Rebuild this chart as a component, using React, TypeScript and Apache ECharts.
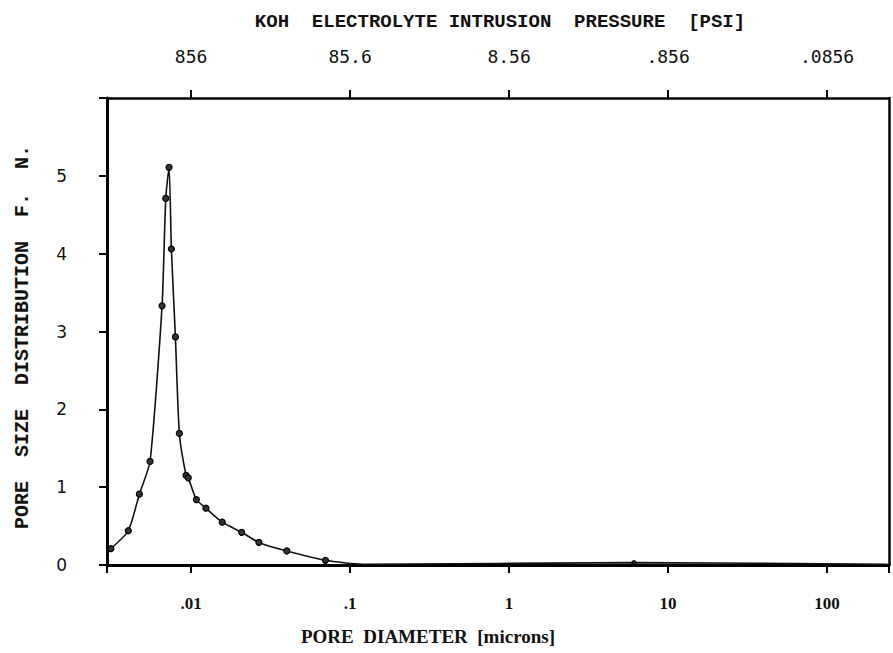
import React, { useEffect, useRef } from "react";
import * as echarts from "echarts";

// Pore diameter (microns) and pore size distribution F.N.
const diameters = [0.00313, 0.00403, 0.00473, 0.00552, 0.00657, 0.00693, 0.00727, 0.00752, 0.00797, 0.00844, 0.0093, 0.0096, 0.0108, 0.0124, 0.0157, 0.0208, 0.0267, 0.040, 0.070, 0.12, 6.1, 240];
const distribution = [0.21, 0.44, 0.91, 1.33, 3.33, 4.71, 5.11, 4.06, 2.93, 1.69, 1.15, 1.12, 0.84, 0.73, 0.55, 0.42, 0.29, 0.18, 0.06, 0.01, 0.03, 0.01];
const markerShown = [1, 1, 1, 1, 1, 1, 1, 1, 1, 1, 1, 1, 1, 1, 1, 1, 1, 1, 1, 0, 1, 0];

const diameterTicks = [0.01, 0.1, 1, 10, 100];
const diameterLabels = [".01", ".1", "1", "10", "100"];
const pressureLabels = ["856", "85.6", "8.56", ".856", ".0856"];
const yTicks = [0, 1, 2, 3, 4, 5];

const xMin = 0.00296;
const xMax = 245;

const topTitle = "KOH  ELECTROLYTE INTRUSION  PRESSURE  [PSI]";
const bottomTitle = "PORE  DIAMETER  [microns]";
const leftTitle = "PORE  SIZE  DISTRIBUTION  F.  N.";

function idxOf(v: number) {
  const e = Math.log10(v);
  const r = Math.round(e);
  if (Math.abs(e - r) > 1e-6) return -1;
  return r + 2;
}

export default function App() {
  const ref = useRef<HTMLDivElement>(null);
  useEffect(() => {
    if (!ref.current) return;
    const chart = echarts.init(ref.current, undefined, { renderer: "svg" });
    const data = diameters.map((d, i) => ({
      value: [d, distribution[i]],
      symbol: markerShown[i] ? "circle" : "none",
      symbolSize: i === 20 ? 4 : 6,
    }));
    const tickStyle = { color: "#000", width: 2 };
    chart.setOption({
      animation: false,
      backgroundColor: "#ffffff",
      grid: { left: 107, right: 4, top: 98, bottom: 88, containLabel: false },
      xAxis: [
        {
          type: "log",
          logBase: 10,
          position: "bottom",
          min: xMin,
          max: xMax,
          axisLine: { show: true, onZero: false, lineStyle: { color: "#000", width: 3 } },
          axisTick: { show: true, length: 8, lineStyle: tickStyle },
          minorTick: { show: false },
          splitLine: { show: false },
          axisLabel: {
            customValues: diameterTicks,
            margin: 30,
            color: "#111",
            fontFamily: "Liberation Serif",
            fontWeight: "bold",
            fontSize: 17,
            formatter: (v: number) => {
              const k = idxOf(v);
              return k >= 0 ? diameterLabels[k] : "";
            },
          },
        },
        {
          type: "log",
          logBase: 10,
          position: "top",
          min: xMin,
          max: xMax,
          axisLine: { show: true, onZero: false, lineStyle: { color: "#000", width: 2.5 } },
          axisTick: { show: true, length: 8, customValues: diameterTicks, lineStyle: tickStyle },
          minorTick: { show: false },
          splitLine: { show: false },
          axisLabel: {
            customValues: diameterTicks,
            margin: 33,
            color: "#111",
            fontFamily: "DejaVu Sans Mono",
            fontSize: 18,
            formatter: (v: number) => {
              const k = idxOf(v);
              return k >= 0 ? pressureLabels[k] : "";
            },
          },
        },
      ],
      yAxis: [
        {
          type: "value",
          position: "left",
          min: 0,
          max: 6,
          interval: 1,
          axisLine: { show: true, onZero: false, lineStyle: { color: "#000", width: 3 } },
          axisTick: { show: true, length: 8, lineStyle: tickStyle },
          splitLine: { show: false },
          axisLabel: {
            customValues: yTicks,
            margin: 40,
            color: "#111",
            fontFamily: "DejaVu Sans",
            fontSize: 17,
          },
        },
        {
          type: "value",
          position: "right",
          min: 0,
          max: 6,
          interval: 1,
          axisLine: { show: true, onZero: false, lineStyle: { color: "#000", width: 2.5 } },
          axisTick: { show: false },
          axisLabel: { show: false },
          splitLine: { show: false },
        },
      ],
      graphic: [
        {
          type: "text",
          x: 500,
          y: 22,
          style: {
            text: topTitle,
            font: "bold 19px 'Liberation Mono'",
            fill: "#111",
            align: "center",
            verticalAlign: "middle",
            textAlign: "center",
            textVerticalAlign: "middle",
          },
        },
        {
          type: "text",
          x: 428,
          y: 636,
          style: {
            text: bottomTitle,
            font: "bold 19px 'Liberation Serif'",
            fill: "#111",
            align: "center",
            verticalAlign: "middle",
            textAlign: "center",
            textVerticalAlign: "middle",
          },
        },
        {
          type: "text",
          x: 22,
          y: 337,
          rotation: Math.PI / 2,
          style: {
            text: leftTitle,
            font: "bold 20px 'Liberation Mono'",
            fill: "#111",
            align: "center",
            verticalAlign: "middle",
            textAlign: "center",
            textVerticalAlign: "middle",
          },
        },
      ],
      series: [
        {
          type: "line",
          xAxisIndex: 0,
          yAxisIndex: 0,
          data,
          smooth: 0.2,
          lineStyle: { color: "#111", width: 1.6 },
          itemStyle: { color: "#333", borderColor: "#000", borderWidth: 1.2 },
        },
      ],
    });
    return () => chart.dispose();
  }, []);
  return (
    <div
      ref={ref}
      style={{ position: "fixed", left: 0, top: 0, width: 893, height: 653, background: "#fff" }}
    />
  );
}
